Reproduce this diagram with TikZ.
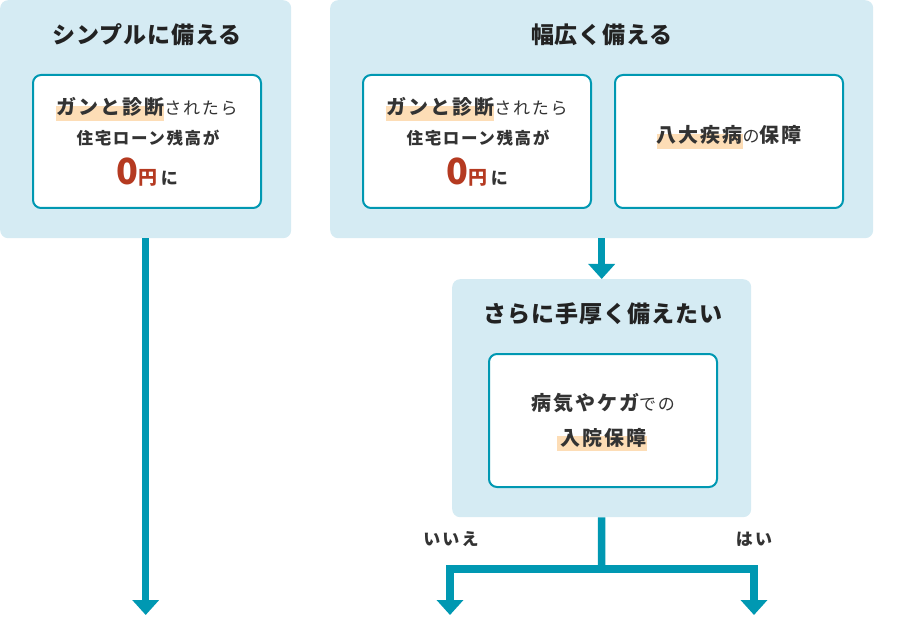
\documentclass[tikz,border=0pt]{standalone}
\usepackage{fontspec}
\setmainfont{Noto Sans CJK JP}
\usetikzlibrary{arrows.meta}
\definecolor{panelc}{RGB}{213,235,243}
\definecolor{tealc}{RGB}{0,152,178}
\definecolor{redc}{RGB}{181,58,33}
\definecolor{hlc}{RGB}{253,221,182}
\definecolor{txtc}{RGB}{51,51,51}
\definecolor{ttlc}{RGB}{34,34,34}
\newsavebox\hlbox
\newcommand\hlmark[1]{\sbox\hlbox{#1}\rlap{\textcolor{hlc}{\rule[-6pt]{\wd\hlbox}{15pt}}}\usebox\hlbox}
\newcommand\fs[1]{\fontsize{#1}{#1}\selectfont}
\newcommand\lsp[1]{\addfontfeatures{LetterSpace=#1}}
\tikzset{
 panel/.style={fill=panelc, rounded corners=8pt, anchor=north west, inner sep=0pt},
 card/.style={draw=tealc, line width=2pt, fill=white, rounded corners=8pt, anchor=north west, inner sep=0pt, minimum width=228pt, minimum height=133pt},
 ttl/.style={anchor=base, inner sep=0pt, text=ttlc, font=\fs{23}\bfseries\lsp{4}},
 txt/.style={anchor=base, inner sep=0pt, text=txtc},
 flow/.style={draw=tealc, line width=7.5pt, -{Triangle[width=26pt,length=15pt]}},
 flowline/.style={draw=tealc, line width=7.5pt},
}
\begin{document}
\begin{tikzpicture}[x=1pt,y=-1pt]
\useasboundingbox (0,0) rectangle (899,617);
% panels
\node[panel, minimum width=291pt, minimum height=238pt] (lp) at (0,0) {};
\node[panel, minimum width=543pt, minimum height=238pt] (rp) at (330,0) {};
\node[panel, minimum width=299pt, minimum height=238pt] (mp) at (452,279) {};
% cards
\node[card] (c1) at (32,74) {};
\node[card] (c2) at (362,74) {};
\node[card] (c3) at (614,74) {};
\node[card] (c4) at (488,353) {};
% titles
\node[ttl] (t1) at (147,44) {シンプルに備える};
\node[ttl] (t2) at (602,44) {幅広く備える};
\node[ttl] (t3) at (603,323) {さらに手厚く備えたい};
% card 1
\node[txt] (a1) at (147,115) {\hlmark{\fs{20}\bfseries\lsp{10}ガンと診断}{\fs{17}\lsp{10}されたら}};
\node[txt] (a2) at (148,145) {\fs{16.5}\bfseries\lsp{10}住宅ローン残高が};
\node[txt] (a3) at (147,185) {{\fs{36}\bfseries\color{redc}0}{\fs{19}\bfseries\color{redc}円}{\fs{17}\bfseries\ に}};
% card 2
\node[txt] (b1) at (477,115) {\hlmark{\fs{20}\bfseries\lsp{10}ガンと診断}{\fs{17}\lsp{10}されたら}};
\node[txt] (b2) at (478,145) {\fs{16.5}\bfseries\lsp{10}住宅ローン残高が};
\node[txt] (b3) at (477,185) {{\fs{36}\bfseries\color{redc}0}{\fs{19}\bfseries\color{redc}円}{\fs{17}\bfseries\ に}};
% card 3
\node[txt] (d1) at (729,143) {\hlmark{\fs{20}\bfseries\lsp{10}八大疾病}{\fs{17}\lsp{10}の}{\fs{20}\bfseries\lsp{10}保障}};
% card 4
\node[txt] (e1) at (603,410) {{\fs{20}\bfseries\lsp{10}病気やケガ}{\fs{17}\lsp{10}での}};
\node[txt] (e2) at (602,445) {\hlmark{\fs{20}\bfseries\lsp{10}\,入院保障}};
% labels
\node[txt] (no) at (451,545) {\fs{17}\bfseries\lsp{12}いいえ};
\node[txt] (yes) at (754,545) {\fs{17}\bfseries\lsp{12}はい};
% connectors
\coordinate (endL) at (146,615);
\coordinate (j) at (601.5,569);
\coordinate (endN) at (450,615);
\coordinate (endY) at (754,615);
\draw[flow] (lp.south) -- (lp.south |- endL);
\draw[flow] (rp.south) -- (mp.north);
\draw[flowline] (mp.south) -- (j);
\draw[flow] (j) -| (endN);
\draw[flow] (j) -| (endY);
\end{tikzpicture}
\end{document}
